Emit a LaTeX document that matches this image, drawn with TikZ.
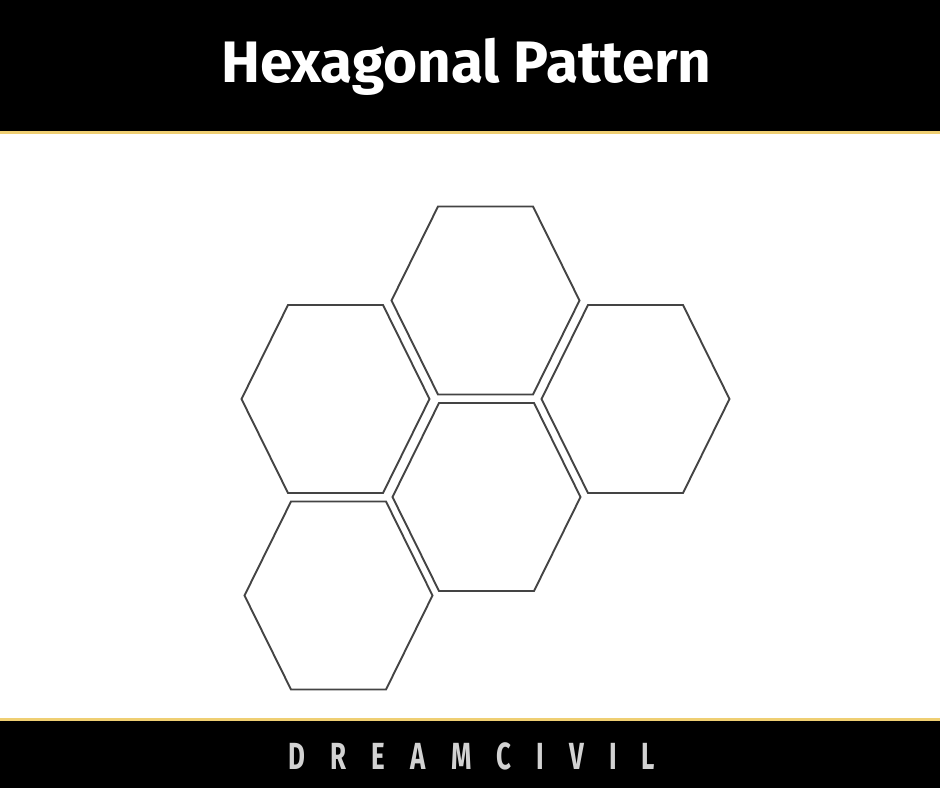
\documentclass[tikz,border=0pt]{standalone}
\usepackage{fontspec}
\setmainfont{Fira Sans}
\newfontfamily\brandfont[LetterSpace=97]{Fira Sans}
\definecolor{goldline}{HTML}{EFCF73}
\definecolor{hexline}{HTML}{444444}
\definecolor{brandgray}{HTML}{D2D2D2}
\tikzset{
  hexcell/.style={draw=hexline, line width=1.9pt, line join=miter},
}
\begin{document}
\begin{tikzpicture}[x=1pt,y=-1pt]
\useasboundingbox (0,0) rectangle (940,788);
\fill[white] (0,0) rectangle (940,788);
% top bar
\fill[black] (0,0) rectangle (940,130.5);
\fill[goldline] (0,130.5) rectangle (940,134);
% bottom bar
\fill[goldline] (0,717.5) rectangle (940,721);
\fill[black] (0,721) rectangle (940,788);
% title
\node[anchor=base, text=white, inner sep=0, font=\bfseries\fontsize{58.5}{58.5}\selectfont] (title) at (466.5,82.5) {Hexagonal Pattern};
% brand
\node[anchor=base, text=brandgray, inner sep=0] (brand) at (472,769)
  {\scalebox{0.72}[1.05]{\brandfont\bfseries\fontsize{36}{36}\selectfont DREAMCIVIL}};
% hexagon centres
\coordinate (h1) at (485.5,300.5);
\coordinate (h2) at (335.5,399);
\coordinate (h3) at (635.5,399);
\coordinate (h4) at (486.5,497);
\coordinate (h5) at (338.5,595.5);
\foreach \c in {h1,h2,h3,h4,h5}{
  \draw[hexcell] ([shift={(-94,0)}]\c) -- ([shift={(-47.5,-94)}]\c) -- ([shift={(47.5,-94)}]\c)
    -- ([shift={(94,0)}]\c) -- ([shift={(47.5,94)}]\c) -- ([shift={(-47.5,94)}]\c) -- cycle;
}
\end{tikzpicture}
\end{document}
